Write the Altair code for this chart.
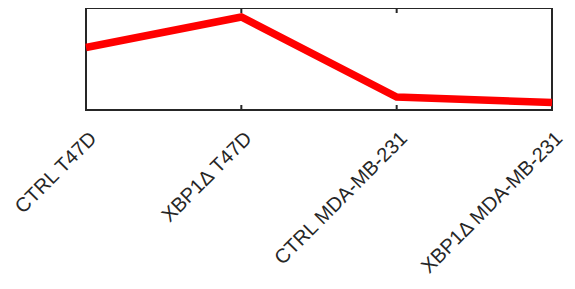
import altair as alt
import pandas as pd

categories = ["CTRL T47D", "XBP1Δ T47D", "CTRL MDA-MB-231", "XBP1Δ MDA-MB-231"]
values = [0.613, 0.912, 0.127, 0.074]

W, H = 466, 102
df = pd.DataFrame({"cat": categories, "val": values})
inner = pd.DataFrame({"cat": categories[1:3]})

xenc = alt.X(
    "cat:N",
    sort=categories,
    scale=alt.Scale(type="point", padding=0),
    axis=alt.Axis(
        title=None, domain=False, ticks=False, tickSize=0, grid=False,
        labelAngle=-45, labelAlign="right", labelBaseline="middle",
        labelPadding=25, labelOffset=7, labelFontSize=20,
        labelFont="Liberation Sans", labelColor="#262626",
        labelOverlap=False, labelFlush=False, labelBound=False, labelLimit=400,
    ),
)

line = alt.Chart(df).mark_line(color="#ff0000", strokeWidth=7.5, strokeCap="butt", strokeJoin="miter").encode(
    x=xenc,
    y=alt.Y("val:Q", scale=alt.Scale(domain=[0, 1]), axis=None),
)

top_ticks = alt.Chart(inner).mark_rule(color="#262626", strokeWidth=2).encode(
    x=alt.X("cat:N", sort=categories), y=alt.value(0), y2=alt.value(5)
)
bot_ticks = alt.Chart(inner).mark_rule(color="#262626", strokeWidth=2).encode(
    x=alt.X("cat:N", sort=categories), y=alt.value(H - 5), y2=alt.value(H)
)

chart = (
    alt.layer(line, top_ticks, bot_ticks)
    .properties(
        width=W, height=H, autosize="none",
        padding={"left": 78, "top": 0, "right": 15, "bottom": 170},
        background="white",
    )
    .configure_view(stroke="#262626", strokeWidth=2)
)

chart.save("out.html", embed_options={"renderer": "svg", "actions": False})
